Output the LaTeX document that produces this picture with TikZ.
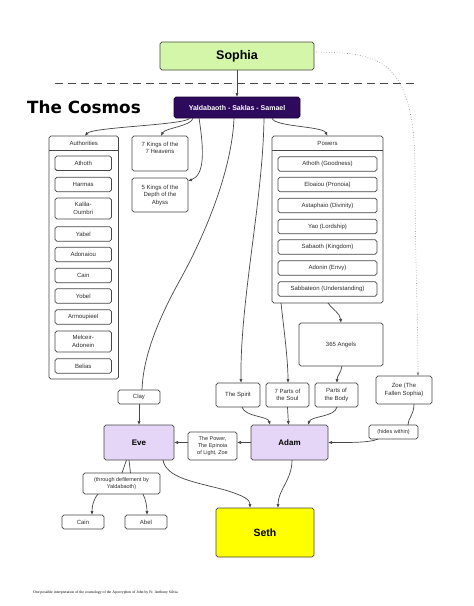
\documentclass[tikz,border=0pt]{standalone}
\usepackage{fontspec}
\setmainfont{Liberation Sans}
\newfontfamily\cosmosfont{DejaVu Sans}
\newfontfamily\notefont{Liberation Serif}
\usetikzlibrary{arrows.meta,calc}
\definecolor{linegray}{RGB}{70,70,70}
\definecolor{textgray}{RGB}{45,45,45}
\definecolor{sophiagreen}{RGB}{212,246,168}
\definecolor{yalpurple}{RGB}{46,10,92}
\definecolor{evepurple}{RGB}{229,214,247}
\definecolor{sethyellow}{RGB}{255,255,0}
\tikzset{
  box/.style={draw=linegray, line width=0.75pt, rounded corners=1.8pt, inner sep=0pt, outer sep=0pt,
    align=center, text=textgray, font=\fontsize{6}{7.5}\selectfont, fill=white},
  smallbox/.style={box, font=\fontsize{5.5}{7}\selectfont},
  conn/.style={draw=linegray, line width=0.7pt, -{Latex[length=4pt,width=3.2pt]}},
  plainline/.style={draw=linegray, line width=0.7pt},
  dottedline/.style={draw=gray, line width=0.6pt, dotted},
  dashline/.style={draw=linegray, line width=1pt, dash pattern=on 8pt off 5pt},
  headtext/.style={text=textgray, font=\fontsize{6}{7.5}\selectfont, inner sep=0pt}
}
\begin{document}
\begin{tikzpicture}[x=1pt,y=-1pt]
\useasboundingbox (0,0) rectangle (474,606);

% top
\node[box, fill=sophiagreen, minimum width=154pt, minimum height=28pt, text=black,
  font=\bfseries\fontsize{12.5}{14}\selectfont] (sop) at (237,56) {Sophia};
\coordinate (dl) at (55,83);
\coordinate (dr) at (418,83);
\draw[dashline] (dl) -- (dr);
\node[anchor=west, inner sep=0pt, font=\cosmosfont\bfseries\fontsize{16.8}{18}\selectfont] (cosmos) at (27,107) {The Cosmos};
\node[box, fill=yalpurple, draw=yalpurple!60!black, text=white, minimum width=126pt, minimum height=21pt,
  font=\bfseries\fontsize{7}{8}\selectfont] (yal) at (237,107.5) {Yaldabaoth - Saklas - Samael};

% Authorities
\node[box, minimum width=69.5pt, minimum height=243pt] (auth) at (83.75,257.5) {};
\node[headtext] (authh) at ($(auth.north)+(0,7)$) {Authorities};
\draw[plainline] ($(auth.north west)+(0,14)$) -- ($(auth.north east)+(0,14)$);
\foreach \y/\h/\t [count=\i] in {163.3/14.5/Athoth, 184.5/14.5/Harmas, 208.5/21/{Kalila-\\Oumbri},
  234/14.5/Yabel, 254.5/14.5/Adonaiou, 275.5/14.5/Cain, 296/14.5/Yobel, 317/14.5/Armoupieel,
  341.5/21/{Melceir-\\Adonein}, 366/14.5/Belias}
  \node[box, minimum width=56.5pt, minimum height=\h pt] (au\i) at (83.25,\y) {\t};

% Kings
\node[box, minimum width=56pt, minimum height=35pt] (k7) at (160,153.5) {7 Kings of the\\7 Heavens\\[4pt]};
\node[box, minimum width=56pt, minimum height=34pt] (k5) at (160,195) {5 Kings of the\\Depth of the\\Abyss};

% Powers
\node[box, minimum width=111pt, minimum height=167pt] (pow) at (327.5,219.5) {};
\node[headtext] (powh) at ($(pow.north)+(0,7)$) {Powers};
\draw[plainline] ($(pow.north west)+(0,14)$) -- ($(pow.north east)+(0,14)$);
\foreach \y/\t [count=\i] in {164/Athoth (Goodness), 184.5/Eloaiou (Pronoia), 205.5/Astaphaio (Divinity),
  226.5/Yao (Lordship), 247/Sabaoth (Kingdom), 268/Adonin (Envy), 289/Sabbateon (Understanding)}
  \node[box, minimum width=99pt, minimum height=14.5pt] (po\i) at (327.5,\y) {\t};

\node[box, minimum width=84pt, minimum height=43pt] (ang) at (341,344.5) {365 Angels};

% middle row
\node[box, minimum width=56pt, minimum height=28pt] (zoe) at (404,390) {Zoe (The\\Fallen Sophia)};
\node[box, minimum width=42pt, minimum height=14pt] (clay) at (139,397) {Clay};
\node[box, minimum width=44pt, minimum height=24pt] (spi) at (238,395) {The Spirit};
\node[box, minimum width=43pt, minimum height=24pt] (soul) at (287.5,395) {7 Parts of\\the Soul};
\node[box, minimum width=43pt, minimum height=24pt] (body) at (336.5,395) {Parts of\\the Body};

\node[box, fill=evepurple, text=black, minimum width=70pt, minimum height=35pt,
  font=\bfseries\fontsize{8}{9}\selectfont] (eve) at (139,442.5) {Eve};
\node[smallbox, minimum width=49pt, minimum height=28pt] (pw) at (212.5,446) {The Power,\\The Epinoia\\of Light, Zoe};
\node[box, fill=evepurple, text=black, minimum width=77pt, minimum height=35pt,
  font=\bfseries\fontsize{8}{9}\selectfont] (adam) at (289.5,442.5) {Adam};
\node[smallbox, minimum width=49pt, minimum height=14pt] (hid) at (393.5,432) {(hides within)};

\node[smallbox, minimum width=77pt, minimum height=21pt] (thr) at (121.5,483.5) {(through defilement by\\Yaldabaoth)};
\node[box, minimum width=42pt, minimum height=14pt] (cain) at (83,522) {Cain};
\node[box, minimum width=42pt, minimum height=14pt] (abel) at (146,522) {Abel};
\node[box, fill=sethyellow, text=black, minimum width=98pt, minimum height=49pt,
  font=\bfseries\fontsize{10.5}{12}\selectfont] (seth) at (265,532.5) {Seth};

\node[anchor=west, inner sep=0pt, font=\notefont\fontsize{3.8}{4.5}\selectfont] (note) at (33,593)
  {One possible interpretation of the cosmology of the Apocryphon of John by Fr. Anthony Silvia};

% connectors
\draw[conn] (sop.south) -- (yal.north);
\draw[dottedline, -{Latex[length=3.5pt,width=3pt]}] ($(sop.east)+(2,-4)$) .. controls +(55,2) and +(0,-120) .. (415,170)
  .. controls +(0,90) and +(0,-60) .. ($(zoe.north)+(14,0)$);
\draw[conn] ($(yal.south)+(-47,0)$) .. controls +(-3,7) and +(8,-9) .. ($(auth.north)+(1,0)$);
\draw[conn] ($(yal.south)+(-44,0)$) .. controls +(-1,8) and +(4,-8) .. ($(k7.north)+(1,0)$);
\draw[conn] ($(yal.south)+(-38,0)$) .. controls +(5,32) and +(17,-6) .. ($(k5.east)+(0,-14)$);
\draw[plainline] ($(yal.south)+(-3,0)$) .. controls +(-2,52) and +(25,-45) .. (180,280)
  .. controls +(-25,45) and +(1,-30) .. ($(clay.north)+(3,0)$);
\draw[conn] (clay.south) -- (eve.north);
\draw[conn] ($(yal.south)+(27,0)$) .. controls +(-1,82) and +(-1,-83) .. ($(spi.north)+(3,0)$);
\draw[conn] ($(yal.south)+(35,0)$) .. controls +(2,9) and +(-5,-10) .. (pow.north);
\draw[conn] ($(pow.south)+(-46.5,0)$) .. controls +(3,27) and +(0,-23) .. ($(soul.north)+(0.5,0)$);
\draw[conn] ($(pow.south)+(0.5,0)$) .. controls +(5,7) and +(-1,-10) .. (ang.north);
\draw[conn] ($(ang.south)+(1,0)$) .. controls +(-1,7) and +(0,-7) .. ($(body.north)+(0.5,0)$);
\draw[conn] ($(spi.south)+(4,0)$) .. controls +(3,10) and +(-2,-9) .. ($(adam.north)+(-19.5,0)$);
\draw[conn] (soul.south) -- ($(adam.north)+(-1,0)$);
\draw[conn] ($(body.south)+(0.5,0)$) .. controls +(-2,10) and +(3,-9) .. ($(adam.north)+(18.5,0)$);
\draw[plainline] ($(zoe.south)+(10,0)$) .. controls +(0,11) and +(0,-7) .. ($(hid.north)+(14.5,0)$);
\draw[conn] ($(hid.south)+(-15.5,0)$) .. controls +(-8,4) and +(17,0) .. (adam.east);
\draw[conn] (adam.west) -- (adam.west -| pw.east);
\draw[conn] (pw.west |- adam.west) -- (eve.east);
\draw[plainline] ($(eve.south)+(-12.5,0)$) -- ($(thr.north)+(0.5,0)$);
\draw[plainline] ($(eve.south)+(-10,0)$) -- ($(thr.north)+(9,0)$);
\draw[conn] ($(thr.south)+(-23.5,0)$) .. controls +(-5,6) and +(0,-8) .. ($(cain.north)+(9,0)$);
\draw[conn] ($(thr.south)+(21.5,0)$) .. controls +(3,6) and +(0,-8) .. ($(abel.north)+(1,0)$);
\draw[conn] ($(eve.south)+(24,0)$) .. controls +(3,18) and +(-30,-8) .. (225,490)
  .. controls +(20,6) and +(0,-8) .. ($(seth.north)+(-15,0)$);
\draw[conn] ($(adam.south)+(2.5,0)$) .. controls +(0,20) and +(0,-18) .. ($(seth.north)+(13,0)$);
\end{tikzpicture}
\end{document}
